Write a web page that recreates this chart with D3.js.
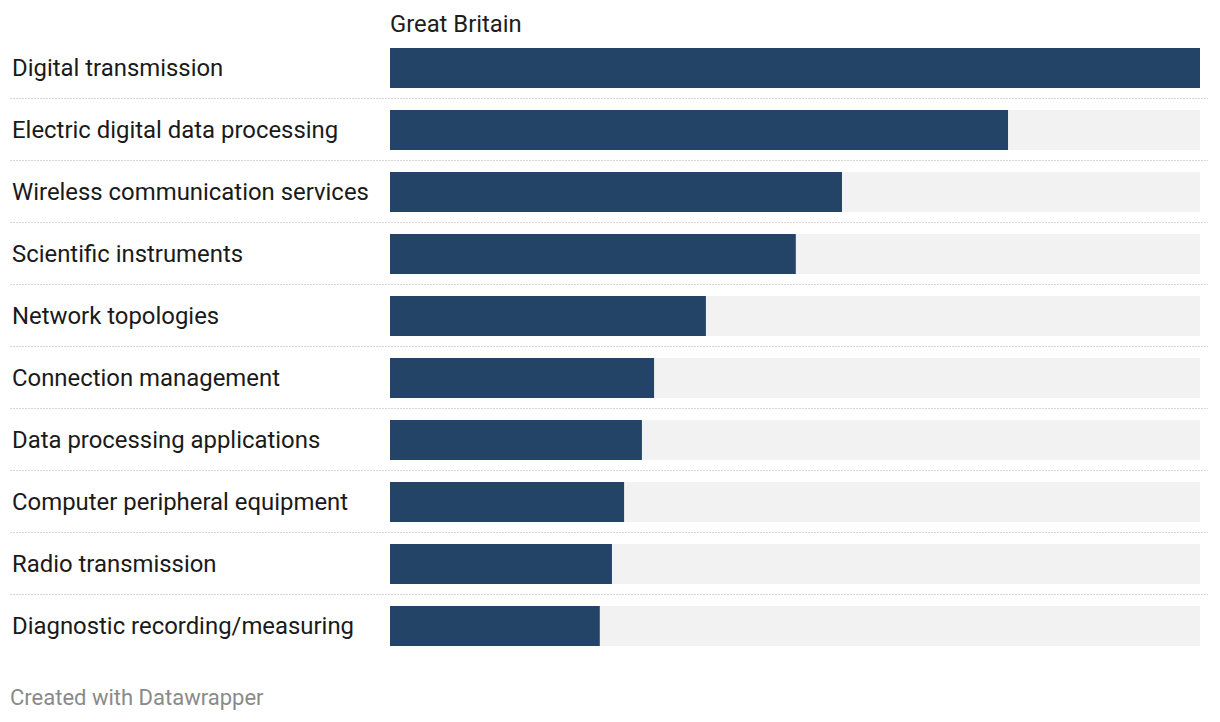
<!DOCTYPE html>
<html><head><meta charset="utf-8">
<script src="https://cdn.jsdelivr.net/npm/d3@7"></script>
<style>
html,body{margin:0;padding:0;background:#fff;}
text{font-family:Roboto,"Noto Sans",sans-serif;}
</style></head>
<body>
<svg id="chart" width="1220" height="722"></svg>
<script>
const categories = ["Digital transmission","Electric digital data processing","Wireless communication services","Scientific instruments","Network topologies","Connection management","Data processing applications","Computer peripheral equipment","Radio transmission","Diagnostic recording/measuring"];
const values = [100, 76.3, 55.8, 50.1, 39.0, 32.6, 31.1, 28.9, 27.4, 25.9];
const seriesName = "Great Britain";
const footer = "Created with Datawrapper";

const svg = d3.select("#chart");
const x = d3.scaleLinear().domain([0, d3.max(values)]).range([390, 1200]);
const y = d3.scaleBand().domain(categories).range([37, 657]).paddingInner(22/62).paddingOuter(11/62);

svg.append("text").attr("x", 390).attr("y", 31.5).attr("font-size", 23.8).attr("fill", "#1d1d1d").text(seriesName);

// separators
svg.selectAll("line.sep").data(categories.slice(1)).join("line")
  .attr("x1", 10).attr("x2", 1208)
  .attr("y1", d => y(d) - 11.5).attr("y2", d => y(d) - 11.5)
  .attr("stroke", "#d6d6d6").attr("stroke-width", 1).attr("stroke-dasharray", "2,1");

svg.selectAll("rect.bg").data(categories).join("rect")
  .attr("x", x(0)).attr("width", x.range()[1] - x(0))
  .attr("y", d => y(d)).attr("height", y.bandwidth()).attr("fill", "#f2f2f2");

svg.selectAll("rect.bar").data(values).join("rect")
  .attr("x", x(0)).attr("width", d => x(d) - x(0))
  .attr("y", (d, i) => y(categories[i])).attr("height", y.bandwidth()).attr("fill", "#234367");

svg.selectAll("text.lab").data(categories).join("text")
  .attr("x", 12).attr("y", d => y(d) + y.bandwidth() / 2 + 7.8)
  .attr("font-size", 23.9).attr("fill", "#1a1a1a").text(d => d);

svg.append("text").attr("x", 10).attr("y", 705).attr("font-size", 22).attr("fill", "#8a8a8a").text(footer);
</script>
</body></html>
